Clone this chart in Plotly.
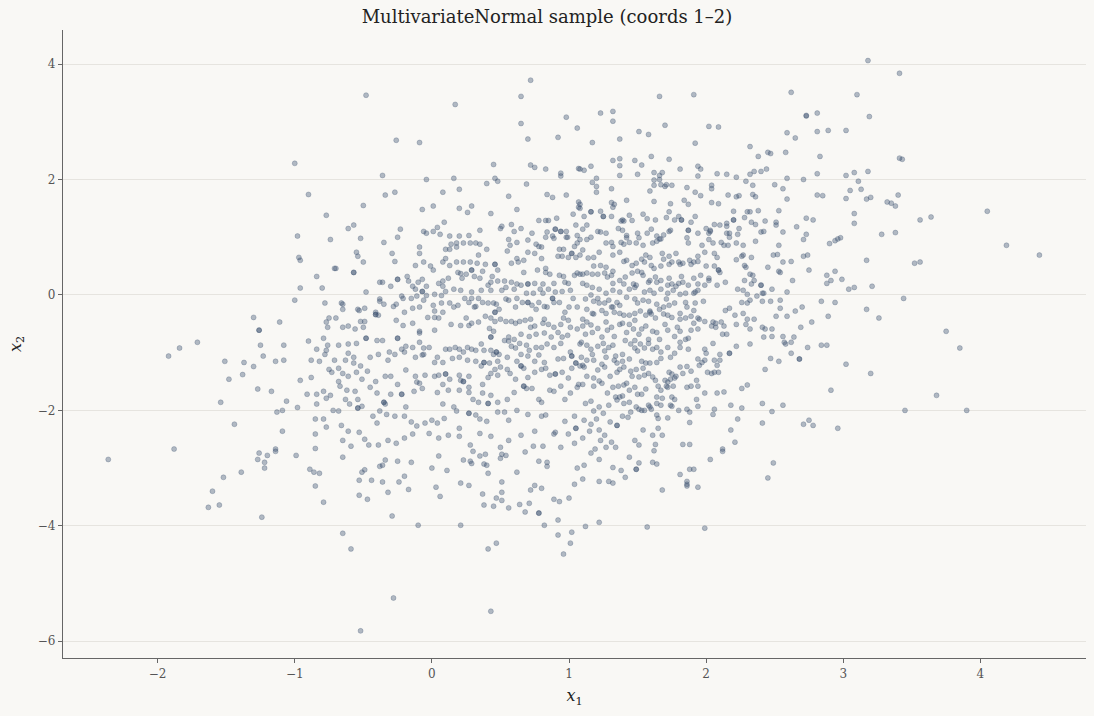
import plotly.graph_objects as go

# Sample points, grouped by region (x1, x2)
pts_upper_left = [
    (-1.00, 2.28), (-0.90, 1.74), (-0.77, 1.38), (-0.98, 1.02), (-0.74, 0.96),
]

pts_upper_mid = [
    (-0.48, 3.46), (0.72, 3.72), (0.65, 3.44), (0.17, 3.30), (0.98, 3.08), (1.06, 2.89),
    (0.65, 2.97), (0.92, 2.73), (0.70, 2.70), (-0.26, 2.68), (-0.09, 2.64), (0.45, 2.26),
    (0.72, 2.25), (0.75, 2.21), (0.83, 2.18), (0.94, 2.11), (0.94, 2.06), (1.07, 2.19),
    (-0.36, 2.07), (-0.04, 2.00), (0.16, 2.02), (0.46, 2.02), (0.48, 1.97), (0.40, 1.93),
    (0.69, 1.92), (0.20, 1.83), (-0.34, 1.73), (-0.27, 1.78), (0.08, 1.78), (0.56, 1.71),
    (0.84, 1.74), (0.88, 1.69), (0.98, 1.73), (-0.50, 1.55), (0.01, 1.54), (-0.07, 1.48),
    (0.20, 1.50), (0.29, 1.54), (0.26, 1.43), (0.43, 1.41), (0.62, 1.48), (1.07, 1.61),
    (1.03, 1.40), (1.07, 1.52), (0.78, 1.29), (0.83, 1.29), (0.85, 1.29), (0.91, 1.33),
    (0.09, 1.26), (-0.61, 1.15), (-0.57, 1.21), (-0.23, 1.14), (0.04, 1.17), (-0.06, 1.10),
    (0.01, 1.10), (0.06, 1.05), (-0.04, 1.07), (0.35, 1.12), (0.50, 1.15), (0.51, 1.19),
    (0.58, 1.22), (0.65, 1.15), (0.60, 1.10), (0.73, 1.07), (0.84, 1.09), (0.90, 1.14),
    (0.90, 1.14), (0.94, 1.10), (0.94, 1.10), (0.98, 1.10), (1.05, 1.21), (1.06, 1.03),
    (-0.52, 0.98), (-0.25, 1.00), (0.13, 1.02), (0.20, 1.02), (0.27, 1.03), (0.56, 0.96),
    (0.70, 0.95), (0.83, 1.00), (0.88, 1.02), (0.89, 0.98), (0.98, 1.00), (0.99, 1.00),
    (-0.35, 0.91), (0.14, 0.88), (0.18, 0.90), (0.23, 0.90), (0.28, 0.90), (0.32, 0.90),
    (0.35, 0.88), (0.57, 0.86), (0.62, 0.91), (0.76, 0.88), (0.78, 0.84), (0.80, 0.83),
    (1.06, 0.90), (1.04, 0.84), (-0.09, 0.83), (0.10, 0.79), (0.13, 0.79), (0.18, 0.83),
    (0.40, 0.79), (0.93, 0.79), (0.96, 0.79),
]

pts_upper_right = [
    (1.66, 3.44), (1.91, 3.47), (2.62, 3.51), (1.23, 3.15), (1.32, 3.18), (1.32, 3.01),
    (2.73, 3.10), (2.73, 3.11), (2.81, 3.15), (1.70, 2.94), (2.02, 2.92), (2.09, 2.91),
    (1.51, 2.83), (1.58, 2.78), (1.37, 2.70), (1.17, 2.64), (1.92, 2.63), (2.59, 2.81),
    (2.81, 2.83), (2.65, 2.72), (2.32, 2.57), (2.38, 2.40), (2.45, 2.47), (2.47, 2.45),
    (2.58, 2.47), (2.83, 2.40), (1.32, 2.33), (1.37, 2.36), (1.48, 2.33), (1.60, 2.40),
    (1.73, 2.35), (1.53, 2.25), (1.37, 2.24), (1.16, 2.23), (1.11, 2.16), (1.08, 2.18),
    (1.81, 2.18), (1.94, 2.23), (1.96, 2.18), (2.44, 2.18), (2.40, 2.14), (2.35, 2.14),
    (2.32, 2.09), (1.37, 2.07), (1.50, 2.09), (1.62, 2.12), (1.68, 2.12), (1.66, 2.07),
    (1.66, 2.00), (1.62, 1.99), (1.94, 2.06), (2.08, 2.10), (2.15, 2.09), (2.22, 2.04),
    (1.20, 2.02), (1.17, 1.95), (1.20, 1.88), (1.20, 1.78), (1.31, 1.84), (1.62, 1.90),
    (1.67, 1.91), (1.70, 1.88), (1.71, 1.91), (1.75, 1.90), (1.86, 1.86), (2.04, 1.90),
    (2.04, 1.84), (2.29, 1.97), (2.34, 1.90), (2.50, 1.91), (2.56, 1.84), (2.59, 2.02),
    (2.71, 2.00), (2.81, 2.10), (2.81, 1.73), (2.85, 1.72), (2.59, 1.66), (1.59, 1.80),
    (1.92, 1.78), (1.96, 1.72), (2.16, 1.73), (2.22, 1.70), (2.24, 1.72), (2.34, 1.74),
    (2.36, 1.70), (1.31, 1.60), (1.33, 1.57), (1.32, 1.52), (1.42, 1.64), (1.62, 1.62),
    (1.74, 1.58), (1.84, 1.64), (1.87, 1.57), (2.04, 1.60), (2.09, 1.58), (2.20, 1.45),
    (2.30, 1.44), (2.32, 1.44), (2.38, 1.46), (2.53, 1.46), (1.08, 1.57), (1.08, 1.50),
    (1.11, 1.36), (1.16, 1.44), (1.16, 1.44), (1.23, 1.45), (1.25, 1.36), (1.25, 1.36),
    (1.31, 1.36), (1.39, 1.30), (1.38, 1.28), (1.40, 1.28), (1.44, 1.38), (1.54, 1.40),
    (1.57, 1.32), (1.63, 1.30), (1.71, 1.34), (1.73, 1.44), (1.77, 1.30), (1.80, 1.36),
    (1.82, 1.30), (1.82, 1.30), (1.89, 1.26), (1.92, 1.36), (2.06, 1.22), (2.10, 1.21),
    (2.15, 1.24), (2.15, 1.19), (2.20, 1.30), (2.20, 1.30), (2.28, 1.34), (2.33, 1.26),
    (2.36, 1.22), (2.43, 1.28), (2.51, 1.26), (2.51, 1.21), (2.66, 1.18), (2.73, 1.33),
    (2.78, 1.30), (1.10, 1.14), (1.13, 1.21), (1.21, 1.10), (1.23, 1.09), (1.27, 1.07),
    (1.36, 1.15), (1.39, 1.12), (1.42, 1.03), (1.42, 0.99), (1.46, 1.29), (1.50, 1.07),
    (1.57, 1.07), (1.60, 1.14), (1.64, 1.02), (1.66, 0.97), (1.69, 1.04), (1.73, 1.10),
    (1.74, 1.12), (1.87, 1.12), (1.87, 1.12), (1.94, 1.07), (2.00, 1.15), (2.03, 1.12),
    (2.03, 1.10), (2.02, 1.07), (2.15, 1.07), (2.17, 1.07), (2.23, 1.05), (2.17, 1.00),
    (2.24, 1.15), (2.40, 1.09), (2.42, 1.10), (2.56, 1.09), (2.73, 1.05), (2.71, 0.96),
    (1.13, 0.96), (1.16, 1.00), (1.08, 0.96), (1.27, 0.90), (1.31, 0.91), (1.32, 0.84),
    (1.38, 0.91), (1.40, 0.88), (1.44, 0.91), (1.49, 0.90), (1.51, 0.99), (1.54, 0.86),
    (1.61, 0.90), (1.64, 0.93), (1.67, 0.97), (1.86, 0.99), (1.87, 0.90), (1.97, 0.86),
    (2.02, 0.96), (2.05, 0.90), (2.11, 0.91), (2.13, 0.86), (2.16, 0.86), (2.22, 0.90),
    (2.27, 0.86), (2.36, 0.93), (2.53, 0.86),
]

pts_far_right = [
    (3.18, 4.06), (3.41, 3.84), (3.10, 3.47), (3.19, 3.09), (2.89, 2.85), (3.02, 2.85),
    (3.41, 2.37), (3.43, 2.35), (3.02, 2.07), (3.08, 2.12), (3.18, 2.14), (3.11, 1.97),
    (3.05, 1.81), (3.13, 1.83), (3.02, 1.67), (3.17, 1.66), (3.20, 1.69), (3.32, 1.61),
    (3.35, 1.59), (3.38, 1.54), (3.40, 1.73), (3.08, 1.41), (3.08, 1.24), (3.56, 1.30),
    (3.64, 1.35), (4.05, 1.45), (3.28, 1.05), (3.38, 1.08), (2.90, 0.89), (2.94, 0.94),
    (2.96, 0.97), (2.98, 0.99), (4.19, 0.86),
    (4.43, 0.69), (3.17, 0.60), (3.52, 0.55), (3.56, 0.57), (2.88, 0.34), (2.94, 0.41),
    (2.91, 0.25), (2.88, 0.20), (2.99, 0.27), (3.04, 0.10), (3.08, 0.13), (3.21, 0.15),
    (2.94, -0.13), (3.44, -0.06), (3.17, -0.25), (3.26, -0.40), (2.89, -0.37), (3.75, -0.63),
    (3.85, -0.92), (2.88, -0.87), (3.02, -1.20), (3.20, -1.36), (2.91, -1.65), (3.68, -1.74),
    (3.45, -2.00), (3.90, -2.00), (2.96, -2.31),
]

pts_mid_left = [
    (-0.97, 0.65), (-0.96, 0.60), (-0.71, 0.46), (-0.84, 0.32), (-0.96, 0.12), (-0.80, 0.12),
    (-1.00, -0.09), (-0.78, -0.14), (-1.30, -0.39), (-1.11, -0.47), (-0.77, -0.47),
    (-0.76, -0.56), (-0.75, -0.40), (-1.26, -0.61), (-1.26, -0.61), (-1.71, -0.82),
    (-1.84, -0.92), (-1.92, -1.06), (-1.25, -0.87), (-1.08, -0.87), (-0.90, -0.80),
    (-0.79, -0.75), (-0.76, -0.87), (-0.77, -0.96), (-0.78, -1.03), (-0.84, -0.94),
    (-1.51, -1.15), (-1.37, -1.17), (-1.23, -1.06), (-1.30, -1.24), (-1.14, -1.15),
    (-1.08, -1.13), (-0.88, -1.13), (-0.82, -1.15), (-0.71, -1.13), (-1.48, -1.46),
    (-1.38, -1.38), (-0.96, -1.48), (-0.88, -1.43), (-0.75, -1.29), (-0.73, -1.34),
    (-1.27, -1.63), (-1.17, -1.67), (-0.91, -1.72), (-0.84, -1.72), (-0.79, -1.67),
    (-0.77, -1.79), (-0.74, -1.74), (-1.06, -1.84), (-1.54, -1.86), (-0.98, -1.95),
    (-0.84, -1.89), (-1.13, -2.03), (-1.09, -2.00), (-0.72, -2.00), (-1.44, -2.24),
    (-0.85, -2.15), (-0.79, -2.15), (-0.77, -2.29), (-1.09, -2.36), (-0.85, -2.41),
    (-1.88, -2.67), (-1.14, -2.67), (-0.85, -2.66),
]

pts_low_left = [
    (-2.36, -2.85), (-1.26, -2.74), (-1.20, -2.78), (-1.14, -2.71), (-1.27, -2.85),
    (-1.22, -2.90), (-1.22, -3.00), (-0.99, -2.78), (-0.89, -3.02), (-0.86, -3.07),
    (-0.82, -3.09), (-0.85, -3.31), (-0.79, -3.59), (-1.52, -3.16), (-1.39, -3.07),
    (-1.60, -3.40), (-1.63, -3.68), (-1.55, -3.64), (-1.24, -3.85),
]

pts_low_mid = [
    (-0.65, -2.81), (-0.34, -2.86), (-0.38, -2.97), (-0.36, -2.95), (-0.51, -3.07),
    (-0.49, -3.03), (-0.53, -3.21), (-0.44, -3.21), (-0.53, -3.47), (-0.47, -3.54),
    (-0.25, -2.88), (-0.15, -2.90), (-0.36, -3.24), (-0.24, -3.24), (-0.20, -3.14),
    (-0.32, -3.42), (-0.17, -3.37), (-0.29, -3.83), (0.00, -3.00), (0.05, -2.79),
    (0.11, -3.04), (0.03, -3.33), (0.06, -3.49), (-0.10, -3.99), (0.21, -3.99),
    (-0.65, -4.13), (-0.59, -4.40), (-0.28, -5.25), (-0.52, -5.82), (0.23, -2.86),
    (0.28, -2.88), (0.29, -2.92), (0.35, -2.79), (0.39, -2.76), (0.38, -2.93), (0.40, -2.95),
    (0.41, -3.09), (0.30, -2.71), (0.21, -3.26), (0.27, -3.30), (0.37, -3.45), (0.38, -3.64),
    (0.45, -3.66), (0.47, -3.52), (0.51, -3.42), (0.51, -3.24), (0.51, -3.56), (0.50, -2.83),
    (0.51, -2.76), (0.54, -2.78), (0.56, -3.69), (0.62, -3.07), (0.68, -2.72), (0.64, -3.63),
    (0.68, -3.76), (0.71, -3.61), (0.72, -3.38), (0.75, -3.30), (0.80, -3.35), (0.78, -2.88),
    (0.84, -2.90), (0.84, -2.97), (0.78, -3.78), (0.78, -3.78), (0.82, -3.99), (0.89, -3.54),
    (0.93, -3.58), (1.00, -3.52), (0.92, -3.90), (0.92, -4.16), (1.02, -4.11), (1.01, -4.30),
    (0.96, -4.49), (1.04, -3.28), (1.06, -3.00), (0.41, -4.40), (0.47, -4.30), (0.43, -5.48),
]

pts_low_right = [
    (1.16, -2.74), (1.11, -2.95), (1.22, -2.85), (1.10, -3.19), (1.22, -3.23), (1.29, -3.23),
    (1.32, -3.26), (1.32, -2.99), (1.38, -3.04), (1.41, -3.16), (1.44, -2.81), (1.49, -3.02),
    (1.49, -3.02), (1.51, -2.91), (1.61, -2.90), (1.64, -2.93), (1.62, -2.70), (1.68, -3.38),
    (1.81, -3.11), (1.86, -3.23), (1.86, -3.28), (1.86, -3.31), (1.88, -3.02), (1.91, -3.02),
    (1.94, -3.33), (2.03, -2.85), (2.12, -2.71), (2.45, -3.17), (2.49, -2.91), (1.12, -4.01),
    (1.22, -3.94), (1.57, -4.02), (1.99, -4.04),
]

pts_core_right = [
    (2.49, 0.69), (2.52, 0.70), (2.56, 0.57), (2.62, 0.58), (2.71, 0.67), (2.74, 0.69),
    (2.75, 0.43), (2.63, 0.25), (2.53, 0.41), (2.54, 0.39), (2.45, 0.48), (2.40, 0.17),
    (2.59, 0.05), (2.48, 0.10), (2.84, -0.11), (2.42, 0.03), (2.41, -0.11), (2.47, -0.11),
    (2.54, -0.09), (2.54, -0.23), (2.51, -0.37), (2.59, -0.37), (2.65, -0.28), (2.70, -0.21),
    (2.77, -0.47), (2.69, -0.56), (2.41, -0.56), (2.43, -0.59), (2.48, -0.59), (2.42, -0.73),
    (2.48, -0.72), (2.56, -0.72), (2.64, -0.73), (2.57, -0.82), (2.58, -0.85), (2.62, -0.82),
    (2.74, -0.91), (2.84, -0.87), (2.32, -0.85), (2.22, -0.89), (2.17, -1.01), (2.62, -1.01),
    (2.47, -1.10), (2.53, -1.15), (2.68, -1.11), (2.68, -1.11), (2.43, -1.29), (2.30, -1.56),
    (2.26, -1.62), (2.41, -1.88), (2.56, -1.91), (2.48, -2.02), (2.18, -1.91), (2.26, -1.96),
    (2.23, -2.15), (2.41, -2.22), (2.71, -2.24), (2.75, -2.17), (2.78, -2.26), (2.18, -2.34),
    (2.21, -2.55), (2.12, -2.67),
    (1.98, -0.11), (2.00, 0.50), (2.06, 0.50), (2.10, 0.39), (2.08, 0.17), (2.14, 0.22),
    (2.02, 0.29), (2.02, 0.25), (2.09, 0.43), (2.09, 0.43), (2.22, 0.61), (2.26, 0.67),
    (2.27, 0.69), (2.33, 0.65), (2.28, 0.51), (2.29, 0.48), (2.32, 0.36), (2.34, 0.34),
    (2.28, 0.25), (2.35, 0.25), (2.33, 0.19), (2.40, 0.17), (2.23, 0.10), (2.27, 0.08),
    (2.30, 0.01), (2.26, -0.13), (2.30, -0.14), (2.32, -0.09), (2.37, -0.02), (2.41, 0.03),
    (2.17, -0.23), (2.14, -0.27), (2.21, -0.35), (2.27, -0.32), (2.30, -0.42), (2.35, -0.42),
    (2.22, -0.51), (2.29, -0.51), (2.32, -0.59), (2.11, -0.47), (2.07, -0.56), (2.13, -0.54),
    (2.12, -0.68), (2.15, -0.68), (2.07, -0.49), (2.05, -0.47),
    (2.05, -0.84), (1.99, -0.94), (2.00, -1.01), (2.06, -1.13), (2.10, -1.03), (2.10, -1.13),
    (2.17, -1.01), (2.08, -1.22), (2.04, -1.36), (2.01, -1.34), (1.97, -1.17), (1.94, -1.11),
    (1.95, -1.22), (1.99, -1.13), (1.93, -1.48), (2.06, -1.34), (2.09, -1.34),
    (1.86, -1.60), (1.89, -1.58), (1.94, -1.58), (1.99, -1.70), (2.08, -1.70), (2.13, -1.68),
    (1.93, -1.81), (1.94, -1.93), (2.06, -1.98), (2.05, -2.07), (1.86, -1.98), (1.88, -2.03),
    (1.80, -2.00), (1.75, -1.77), (1.77, -1.81), (1.83, -2.59), (1.88, -2.59), (1.88, -2.21),
    (1.81, -0.82), (1.87, -0.75), (1.87, -0.94), (1.86, -1.24), (1.89, -1.32), (1.83, -1.36),
    (1.81, -1.25), (1.73, -1.34), (1.75, -1.37),
    (1.77, -1.44), (1.72, -1.51), (1.76, -1.58), (1.72, -1.60), (1.67, -1.65), (1.68, -1.79),
    (1.64, -1.77), (1.67, -1.91), (1.74, -1.91), (1.75, -1.93), (1.64, -2.08), (1.72, -2.13),
    (1.65, -2.31), (1.68, -2.43), (1.61, -2.43), (1.54, -2.34), (1.63, -2.59), (1.65, -2.14),
]

pts_core_center = [
    (1.10, 0.78), (1.14, 0.64), (1.18, 0.65), (1.22, 0.74), (1.18, 0.50), (1.23, 0.51),
    (1.27, 0.48), (1.32, 0.69), (1.37, 0.74), (1.42, 0.60), (1.40, 0.58), (1.46, 0.51),
    (1.49, 0.55), (1.50, 0.41), (1.53, 0.62), (1.55, 0.57), (1.56, 0.69), (1.59, 0.65),
    (1.60, 0.51), (1.62, 0.46), (1.67, 0.50), (1.68, 0.72), (1.69, 0.62), (1.73, 0.67),
    (1.73, 0.53), (1.75, 0.57), (1.78, 0.72), (1.80, 0.57), (1.81, 0.53), (1.83, 0.55),
    (1.88, 0.60), (1.89, 0.53), (1.91, 0.57), (1.94, 0.58), (1.94, 0.67), (1.99, 0.74),
    (2.06, 0.72), (2.08, 0.65),
    (1.08, 0.36), (1.10, 0.36), (1.13, 0.38), (1.17, 0.36), (1.21, 0.36), (1.26, 0.38),
    (1.31, 0.34), (1.32, 0.41), (1.28, 0.31), (1.32, 0.20), (1.37, 0.25), (1.40, 0.19),
    (1.41, 0.31), (1.46, 0.38), (1.47, 0.19), (1.53, 0.39), (1.54, 0.34), (1.49, 0.17),
    (1.58, 0.22), (1.59, 0.25), (1.63, 0.31), (1.64, 0.22), (1.67, 0.25), (1.72, 0.17),
    (1.73, 0.29), (1.75, 0.19), (1.78, 0.15), (1.80, 0.20), (1.82, 0.32), (1.83, 0.22),
    (1.87, 0.17), (1.91, 0.29), (1.94, 0.19), (1.94, 0.08), (1.96, 0.34), (1.99, 0.17),
    (1.10, 0.20), (1.13, 0.17), (1.17, 0.13), (1.22, 0.10), (1.27, 0.03), (1.32, 0.08),
    (1.37, 0.05), (1.44, 0.10), (1.48, 0.13), (1.55, 0.05), (1.59, 0.08), (1.62, 0.03),
    (1.67, 0.10), (1.72, 0.03), (1.76, 0.08), (1.81, 0.01), (1.85, 0.03), (1.91, 0.03),
    (1.92, 0.05),
    (1.12, -0.07), (1.16, 0.00), (1.18, -0.11), (1.21, -0.06), (1.22, -0.14), (1.26, -0.14),
    (1.29, -0.09), (1.32, -0.21), (1.35, -0.13), (1.37, -0.18), (1.42, -0.04), (1.48, -0.07),
    (1.50, -0.14), (1.54, -0.09), (1.58, -0.11), (1.59, -0.28), (1.60, -0.33), (1.64, -0.16),
    (1.66, -0.25), (1.69, -0.21), (1.71, -0.07), (1.73, -0.18), (1.77, -0.14), (1.81, -0.32),
    (1.85, -0.13), (1.86, -0.21), (1.91, -0.27), (1.92, -0.14), (1.94, -0.40), (1.13, -0.25),
    (1.17, -0.32), (1.18, -0.33), (1.24, -0.27), (1.27, -0.32), (1.31, -0.21), (1.33, -0.30),
    (1.37, -0.32), (1.40, -0.35), (1.44, -0.35), (1.48, -0.32), (1.52, -0.28), (1.56, -0.35),
    (1.59, -0.30), (1.63, -0.40), (1.69, -0.33), (1.72, -0.35), (1.75, -0.39), (1.81, -0.42),
    (1.85, -0.40), (1.89, -0.37),
    (1.10, -0.42), (1.13, -0.47), (1.10, -0.54), (1.16, -0.52), (1.12, -0.68), (1.17, -0.65),
    (1.21, -0.58), (1.24, -0.73), (1.27, -0.47), (1.28, -0.61), (1.31, -0.56), (1.33, -0.72),
    (1.37, -0.51), (1.39, -0.49), (1.42, -0.65), (1.44, -0.51), (1.48, -0.44), (1.47, -0.59),
    (1.51, -0.68), (1.53, -0.59), (1.56, -0.54), (1.58, -0.77), (1.61, -0.63), (1.64, -0.65),
    (1.66, -0.77), (1.70, -0.51), (1.72, -0.61), (1.77, -0.72), (1.79, -0.56), (1.81, -0.63),
    (1.85, -0.77), (1.89, -0.61), (1.91, -0.49), (1.94, -0.59), (1.95, -0.42), (1.99, -0.46),
    (2.04, -0.54),
    (1.09, -0.82), (1.13, -0.87), (1.16, -0.94), (1.17, -1.03), (1.21, -0.89), (1.25, -0.84),
    (1.26, -0.97), (1.29, -0.91), (1.32, -0.87), (1.34, -1.06), (1.39, -1.03), (1.41, -0.79),
    (1.45, -0.85), (1.48, -0.92), (1.48, -0.79), (1.52, -0.85), (1.55, -0.92), (1.58, -0.84),
    (1.61, -0.94), (1.64, -0.91), (1.67, -1.10), (1.72, -0.91), (1.74, -1.08), (1.77, -1.01),
    (1.81, -0.91), (1.09, -1.08), (1.10, -1.22), (1.13, -1.13), (1.18, -1.13), (1.24, -1.20),
    (1.27, -1.08), (1.33, -1.13), (1.35, -1.18), (1.39, -1.15), (1.44, -1.11), (1.50, -0.97),
    (1.53, -1.15), (1.56, -1.18), (1.59, -1.18), (1.64, -1.17), (1.67, -0.99),
    (1.08, -1.23), (1.11, -1.25), (1.13, -1.41), (1.18, -1.44), (1.21, -1.30), (1.24, -1.53),
    (1.26, -1.25), (1.30, -1.41), (1.35, -1.34), (1.37, -1.29), (1.40, -1.25), (1.45, -1.32),
    (1.46, -1.41), (1.49, -1.29), (1.51, -1.42), (1.54, -1.27), (1.55, -1.39), (1.58, -1.36),
    (1.61, -1.42), (1.63, -1.48), (1.65, -1.58), (1.70, -1.48), (1.71, -1.58), (1.74, -1.46),
    (1.78, -1.41), (1.10, -1.55), (1.18, -1.58), (1.22, -1.49), (1.28, -1.70), (1.32, -1.60),
    (1.36, -1.58), (1.39, -1.75), (1.40, -1.56), (1.42, -1.53), (1.44, -1.65), (1.48, -1.60),
    (1.50, -1.72), (1.53, -1.72), (1.56, -1.63),
    (1.12, -1.88), (1.16, -1.84), (1.18, -2.01), (1.22, -1.94), (1.25, -2.05), (1.29, -1.91),
    (1.34, -1.77), (1.35, -1.82), (1.37, -1.77), (1.40, -1.88), (1.44, -1.86), (1.49, -1.94),
    (1.53, -2.00), (1.58, -1.91), (1.59, -1.94), (1.60, -1.98), (1.64, -1.88), (1.11, -2.17),
    (1.16, -2.24), (1.15, -2.36), (1.20, -2.15), (1.22, -2.34), (1.26, -2.43), (1.30, -2.20),
    (1.35, -2.26), (1.35, -2.26), (1.39, -2.10), (1.43, -2.12), (1.45, -2.03), (1.51, -1.98),
    (1.55, -2.00), (1.23, -2.52), (1.31, -2.55), (1.27, -2.64), (1.34, -2.64), (1.48, -2.52),
    (1.51, -2.60), (1.19, -2.67), (1.10, -2.48),
]

pts_core_left = [
    (-0.55, 0.74), (-0.54, 0.67), (-0.50, 0.57), (-0.29, 0.72), (-0.27, 0.58), (-0.09, 0.72),
    (-0.12, 0.51), (-0.06, 0.57), (-0.01, 0.50), (0.01, 0.43), (0.10, 0.63), (0.08, 0.57),
    (0.13, 0.51), (0.18, 0.57), (0.23, 0.57), (0.28, 0.57), (0.34, 0.69), (0.33, 0.55),
    (0.39, 0.53), (0.46, 0.53), (0.46, 0.53), (0.48, 0.43), (0.55, 0.76), (0.58, 0.55),
    (0.63, 0.57), (0.62, 0.63), (0.67, 0.60), (0.67, 0.39), (0.70, 0.74), (0.75, 0.72),
    (0.77, 0.43), (0.80, 0.63), (0.83, 0.46), (0.92, 0.67), (0.95, 0.67), (0.995, 0.65),
    (1.02, 0.72), (1.02, 0.72), (1.05, 0.65), (1.08, 0.69), (-0.70, 0.46), (-0.57, 0.39),
    (-0.57, 0.39),
    (-0.38, 0.22), (-0.36, 0.22), (-0.30, 0.15), (-0.25, 0.27), (-0.25, 0.27), (-0.18, 0.32),
    (-0.17, 0.24), (-0.14, 0.15), (-0.12, 0.10), (-0.10, 0.22), (-0.07, 0.27), (-0.04, 0.15),
    (-0.07, 0.06), (-0.07, 0.06), (0.05, 0.20), (0.08, 0.24), (0.08, 0.15), (0.12, 0.29),
    (0.19, 0.39), (0.21, 0.37), (0.22, 0.29), (0.25, 0.36), (0.29, 0.43), (0.29, 0.43),
    (0.31, 0.32), (0.35, 0.29), (0.37, 0.41), (0.43, 0.22), (0.41, 0.17), (0.44, 0.32),
    (0.48, 0.24), (0.53, 0.24), (0.58, 0.22), (0.62, 0.19), (0.65, 0.17), (0.70, 0.19),
    (0.70, 0.19), (0.75, 0.20), (0.79, 0.10), (0.81, 0.19), (0.83, 0.39), (0.86, 0.36),
    (0.89, 0.20), (0.93, 0.34), (0.96, 0.32), (0.97, 0.22), (0.995, 0.20), (1.04, 0.34),
    (1.06, 0.38), (-0.48, 0.05), (-0.38, -0.07), (-0.38, -0.11), (-0.21, -0.06), (-0.22, -0.02),
    (-0.15, -0.06), (-0.11, -0.02), (-0.04, -0.01), (0.02, 0.01), (0.07, -0.01), (0.10, 0.06),
    (0.16, 0.10), (0.21, 0.08), (0.29, 0.05), (0.36, 0.08), (0.43, 0.08), (0.51, 0.08),
    (0.54, 0.13), (0.60, 0.10), (0.69, 0.03), (0.74, 0.03), (0.81, 0.03), (0.85, 0.10),
    (0.90, 0.05), (0.95, 0.06), (1.01, 0.08),
    (-0.66, -0.14), (-0.65, -0.16), (-0.65, -0.25), (-0.54, -0.25), (-0.53, -0.27),
    (-0.49, -0.23), (-0.41, -0.30), (-0.39, -0.35), (-0.35, -0.16), (-0.28, -0.20),
    (-0.26, -0.16), (-0.20, -0.30), (-0.14, -0.23), (-0.09, -0.21), (-0.06, -0.09),
    (0.01, -0.18), (0.02, -0.28), (0.08, -0.30), (0.07, -0.14), (0.13, -0.14), (0.16, -0.21),
    (0.19, -0.18), (0.24, -0.06), (0.29, -0.06), (0.27, -0.13), (0.32, -0.20), (0.34, -0.06),
    (0.37, -0.13), (0.41, -0.14), (0.45, -0.14), (0.47, -0.16), (0.46, -0.30), (0.46, -0.30),
    (0.49, -0.25), (0.54, -0.07), (0.56, -0.09), (0.61, -0.21), (0.62, -0.06), (0.66, -0.13),
    (0.70, -0.13), (0.70, -0.13), (0.73, -0.18), (0.76, -0.25), (0.78, -0.13), (0.82, -0.20),
    (0.84, -0.21), (0.88, -0.06), (0.88, -0.06), (0.89, -0.13), (0.93, -0.13), (1.00, -0.21),
    (0.97, -0.30), (1.03, -0.06), (1.06, -0.21), (0.31, -0.21),
    (-0.70, -0.40), (-0.65, -0.56), (-0.61, -0.54), (-0.56, -0.59), (-0.52, -0.46),
    (-0.49, -0.46), (-0.50, -0.56), (-0.41, -0.34), (-0.41, -0.34), (-0.26, -0.44),
    (-0.21, -0.53), (-0.14, -0.49), (-0.09, -0.63), (-0.09, -0.66), (-0.03, -0.39),
    (0.02, -0.39), (0.05, -0.40), (0.02, -0.61), (0.14, -0.51), (0.21, -0.53), (0.25, -0.40),
    (0.27, -0.53), (0.29, -0.49), (0.34, -0.47), (0.39, -0.37), (0.43, -0.40), (0.46, -0.46),
    (0.42, -0.58), (0.45, -0.63), (0.50, -0.42), (0.54, -0.46), (0.58, -0.46), (0.61, -0.49),
    (0.64, -0.46), (0.68, -0.44), (0.72, -0.42), (0.72, -0.56), (0.75, -0.54), (0.81, -0.49),
    (0.82, -0.42), (0.85, -0.51), (0.89, -0.56), (0.94, -0.51), (0.96, -0.40), (0.995, -0.44),
    (1.01, -0.56), (1.06, -0.59), (0.43, -0.73), (0.43, -0.73), (0.56, -0.73), (0.60, -0.77),
    (0.65, -0.68), (0.71, -0.72), (0.76, -0.68), (0.82, -0.66), (0.87, -0.73), (0.92, -0.65),
    (0.95, -0.73), (0.99, -0.70),
    (-0.68, -0.87), (-0.61, -0.85), (-0.55, -0.84), (-0.48, -0.75), (-0.48, -0.75),
    (-0.40, -0.79), (-0.36, -0.79), (-0.31, -0.99), (-0.25, -0.75), (-0.25, -0.75),
    (-0.22, -0.94), (-0.19, -0.89), (-0.14, -0.91), (-0.09, -0.82), (-0.06, -0.92),
    (-0.02, -0.91), (-0.06, -1.03), (0.04, -1.08), (0.10, -0.94), (0.13, -0.94), (0.17, -0.91),
    (0.20, -0.94), (0.23, -0.99), (0.26, -0.91), (0.29, -0.94), (0.32, -0.96), (0.36, -0.85),
    (0.38, -0.96), (0.43, -0.96), (0.45, -1.03), (0.47, -0.99), (0.47, -0.99), (0.49, -1.03),
    (0.53, -0.79), (0.56, -0.80), (0.58, -0.89), (0.61, -0.92), (0.64, -0.84), (0.69, -0.87),
    (0.71, -0.96), (0.76, -0.91), (0.80, -0.91), (0.84, -0.85), (0.89, -0.91), (0.94, -0.84),
    (1.01, -0.99), (1.08, -0.85), (-0.61, -1.01), (-0.57, -1.08), (-0.63, -1.13),
    (-0.57, -1.18), (-0.52, -1.23), (-0.45, -1.08), (-0.39, -1.03), (-0.32, -1.13),
    (-0.27, -1.03), (-0.20, -0.99), (-0.12, -1.08), (-0.07, -1.04), (0.02, -1.17),
    (0.08, -1.17), (0.15, -1.10), (0.20, -1.08), (0.26, -1.13), (0.32, -1.15), (0.38, -1.17),
    (0.38, -1.17), (0.42, -1.18), (0.48, -1.15), (0.55, -1.08), (0.62, -1.15), (0.65, -1.03),
    (0.70, -1.06), (0.75, -1.15), (0.78, -1.04), (0.82, -1.17), (0.92, -1.11), (0.96, -1.10),
    (1.02, -1.06), (1.02, -1.06), (1.05, -1.18), (1.05, -1.18),
    (-0.68, -1.27), (-0.65, -1.36), (-0.68, -1.50), (-0.61, -1.41), (-0.55, -1.34),
    (-0.51, -1.46), (-0.47, -1.32), (-0.45, -1.60), (-0.41, -1.50), (-0.34, -1.41),
    (-0.30, -1.41), (-0.25, -1.55), (-0.19, -1.30), (-0.12, -1.41), (-0.11, -1.51),
    (-0.09, -1.53), (-0.05, -1.39), (0.02, -1.41), (0.05, -1.39), (0.10, -1.37), (0.10, -1.37),
    (0.08, -1.55), (0.13, -1.46), (0.20, -1.39), (0.21, -1.48), (0.23, -1.50), (0.23, -1.50),
    (0.27, -1.41), (0.36, -1.23), (0.37, -1.55), (0.41, -1.43), (0.43, -1.36), (0.46, -1.29),
    (0.48, -1.39), (0.50, -1.25), (0.55, -1.29), (0.57, -1.36), (0.61, -1.46), (0.65, -1.23),
    (0.65, -1.23), (0.67, -1.27), (0.70, -1.43), (0.75, -1.34), (0.80, -1.29), (0.83, -1.27),
    (0.86, -1.39), (0.90, -1.37), (0.90, -1.37), (0.95, -1.34), (0.995, -1.44), (1.02, -1.27),
    (1.07, -1.55),
    (-0.67, -1.58), (-0.62, -1.65), (-0.56, -1.67), (-0.54, -1.81), (-0.54, -1.96),
    (-0.54, -1.96), (-0.51, -1.93), (-0.40, -1.70), (-0.35, -1.86), (-0.35, -1.86),
    (-0.34, -1.89), (-0.30, -1.72), (-0.22, -1.72), (-0.22, -1.72), (-0.19, -1.94),
    (-0.13, -1.67), (-0.07, -1.62), (0.04, -1.69), (0.08, -1.89), (0.12, -1.65), (0.16, -1.94),
    (0.20, -1.65), (0.27, -1.60), (0.27, -1.69), (0.30, -1.81), (0.34, -1.86), (0.37, -1.70),
    (0.41, -1.88), (0.41, -1.88), (0.43, -1.74), (0.48, -1.86), (0.55, -1.81), (0.60, -1.69),
    (0.67, -1.58), (0.67, -1.58), (0.69, -1.62), (0.73, -1.62), (0.78, -1.81), (0.80, -1.86),
    (0.86, -1.65), (0.89, -1.67), (0.94, -1.58), (0.97, -1.81), (1.01, -1.70), (1.06, -1.60),
    (-0.68, -2.01), (-0.63, -1.81), (-0.60, -1.89),
    (-0.66, -2.26), (-0.61, -2.36), (-0.53, -2.38), (-0.46, -2.60), (-0.43, -2.10),
    (-0.40, -2.22), (-0.38, -2.01), (-0.33, -2.07), (-0.27, -2.10), (-0.20, -2.10),
    (-0.15, -2.20), (-0.11, -2.27), (-0.05, -2.22), (0.00, -2.17), (0.04, -2.22), (0.09, -2.14),
    (0.18, -2.01), (0.20, -2.31), (0.27, -2.05), (0.27, -2.05), (0.32, -2.08), (0.35, -2.15),
    (0.40, -2.19), (0.48, -2.03), (0.53, -2.03), (0.56, -2.17), (0.62, -2.00), (0.70, -2.07),
    (0.75, -2.36), (0.80, -2.10), (0.83, -2.08), (0.90, -2.38), (0.97, -2.19), (1.04, -2.10),
    (1.05, -2.31), (1.05, -2.31), (0.995, -2.41), (1.04, -2.57), (-0.65, -2.52), (-0.59, -2.62),
    (-0.49, -2.50), (-0.39, -2.60), (-0.32, -2.52), (-0.26, -2.57), (-0.20, -2.48),
    (-0.14, -2.41), (-0.02, -2.40), (0.05, -2.48), (0.12, -2.43), (0.20, -2.45), (0.28, -2.60),
    (0.35, -2.40), (0.43, -2.45), (0.50, -2.64), (0.56, -2.52), (0.65, -2.43), (0.74, -2.62),
    (0.81, -2.62), (0.89, -2.41), (0.94, -2.64),
]

regions = [pts_upper_left, pts_upper_mid, pts_upper_right, pts_far_right, pts_mid_left,
           pts_low_left, pts_low_mid, pts_low_right, pts_core_right, pts_core_center,
           pts_core_left]
x1 = [p[0] for r in regions for p in r]
x2 = [p[1] for r in regions for p in r]

x_ticks = [-2, -1, 0, 1, 2, 3, 4]
y_ticks = [-6, -4, -2, 0, 2, 4]

BG = "#f9f8f5"
FONT = "DejaVu Serif"

fig = go.Figure(go.Scatter(
    x=x1, y=x2, mode="markers",
    marker=dict(size=5, color="rgba(58,78,110,0.38)",
                line=dict(width=0.6, color="rgba(58,78,110,0.45)")),
    hoverinfo="skip", showlegend=False,
))

fig.update_layout(
    width=1094, height=716,
    paper_bgcolor=BG, plot_bgcolor=BG,
    margin=dict(l=63, r=8, t=30, b=58),
    font=dict(family=FONT, color="#555555", size=12),
    title=dict(text="MultivariateNormal sample (coords 1–2)", x=0.5, xanchor="center",
               y=0.977, yanchor="middle", font=dict(family=FONT, size=18, color="#222222")),
    xaxis=dict(range=[-2.69, 4.77], tickvals=x_ticks, showgrid=False, zeroline=False,
               showline=True, linecolor="#666666", linewidth=1.2, ticks="outside",
               ticklen=4, tickcolor="#666666",
               title=dict(text="<i>x</i><sub>1</sub>", font=dict(size=16, color="#222222"),
                          standoff=10)),
    yaxis=dict(range=[-6.29, 4.59], tickvals=y_ticks, showgrid=True, gridcolor="#e6e4df",
               gridwidth=1, zeroline=False, showline=True, linecolor="#666666",
               linewidth=1.2, ticks="outside", ticklen=4, tickcolor="#666666",
               tickformat="d",
               title=dict(text="<i>x</i><sub>2</sub>", font=dict(size=16, color="#222222"),
                          standoff=12)),
)

fig.write_html("out.html")
